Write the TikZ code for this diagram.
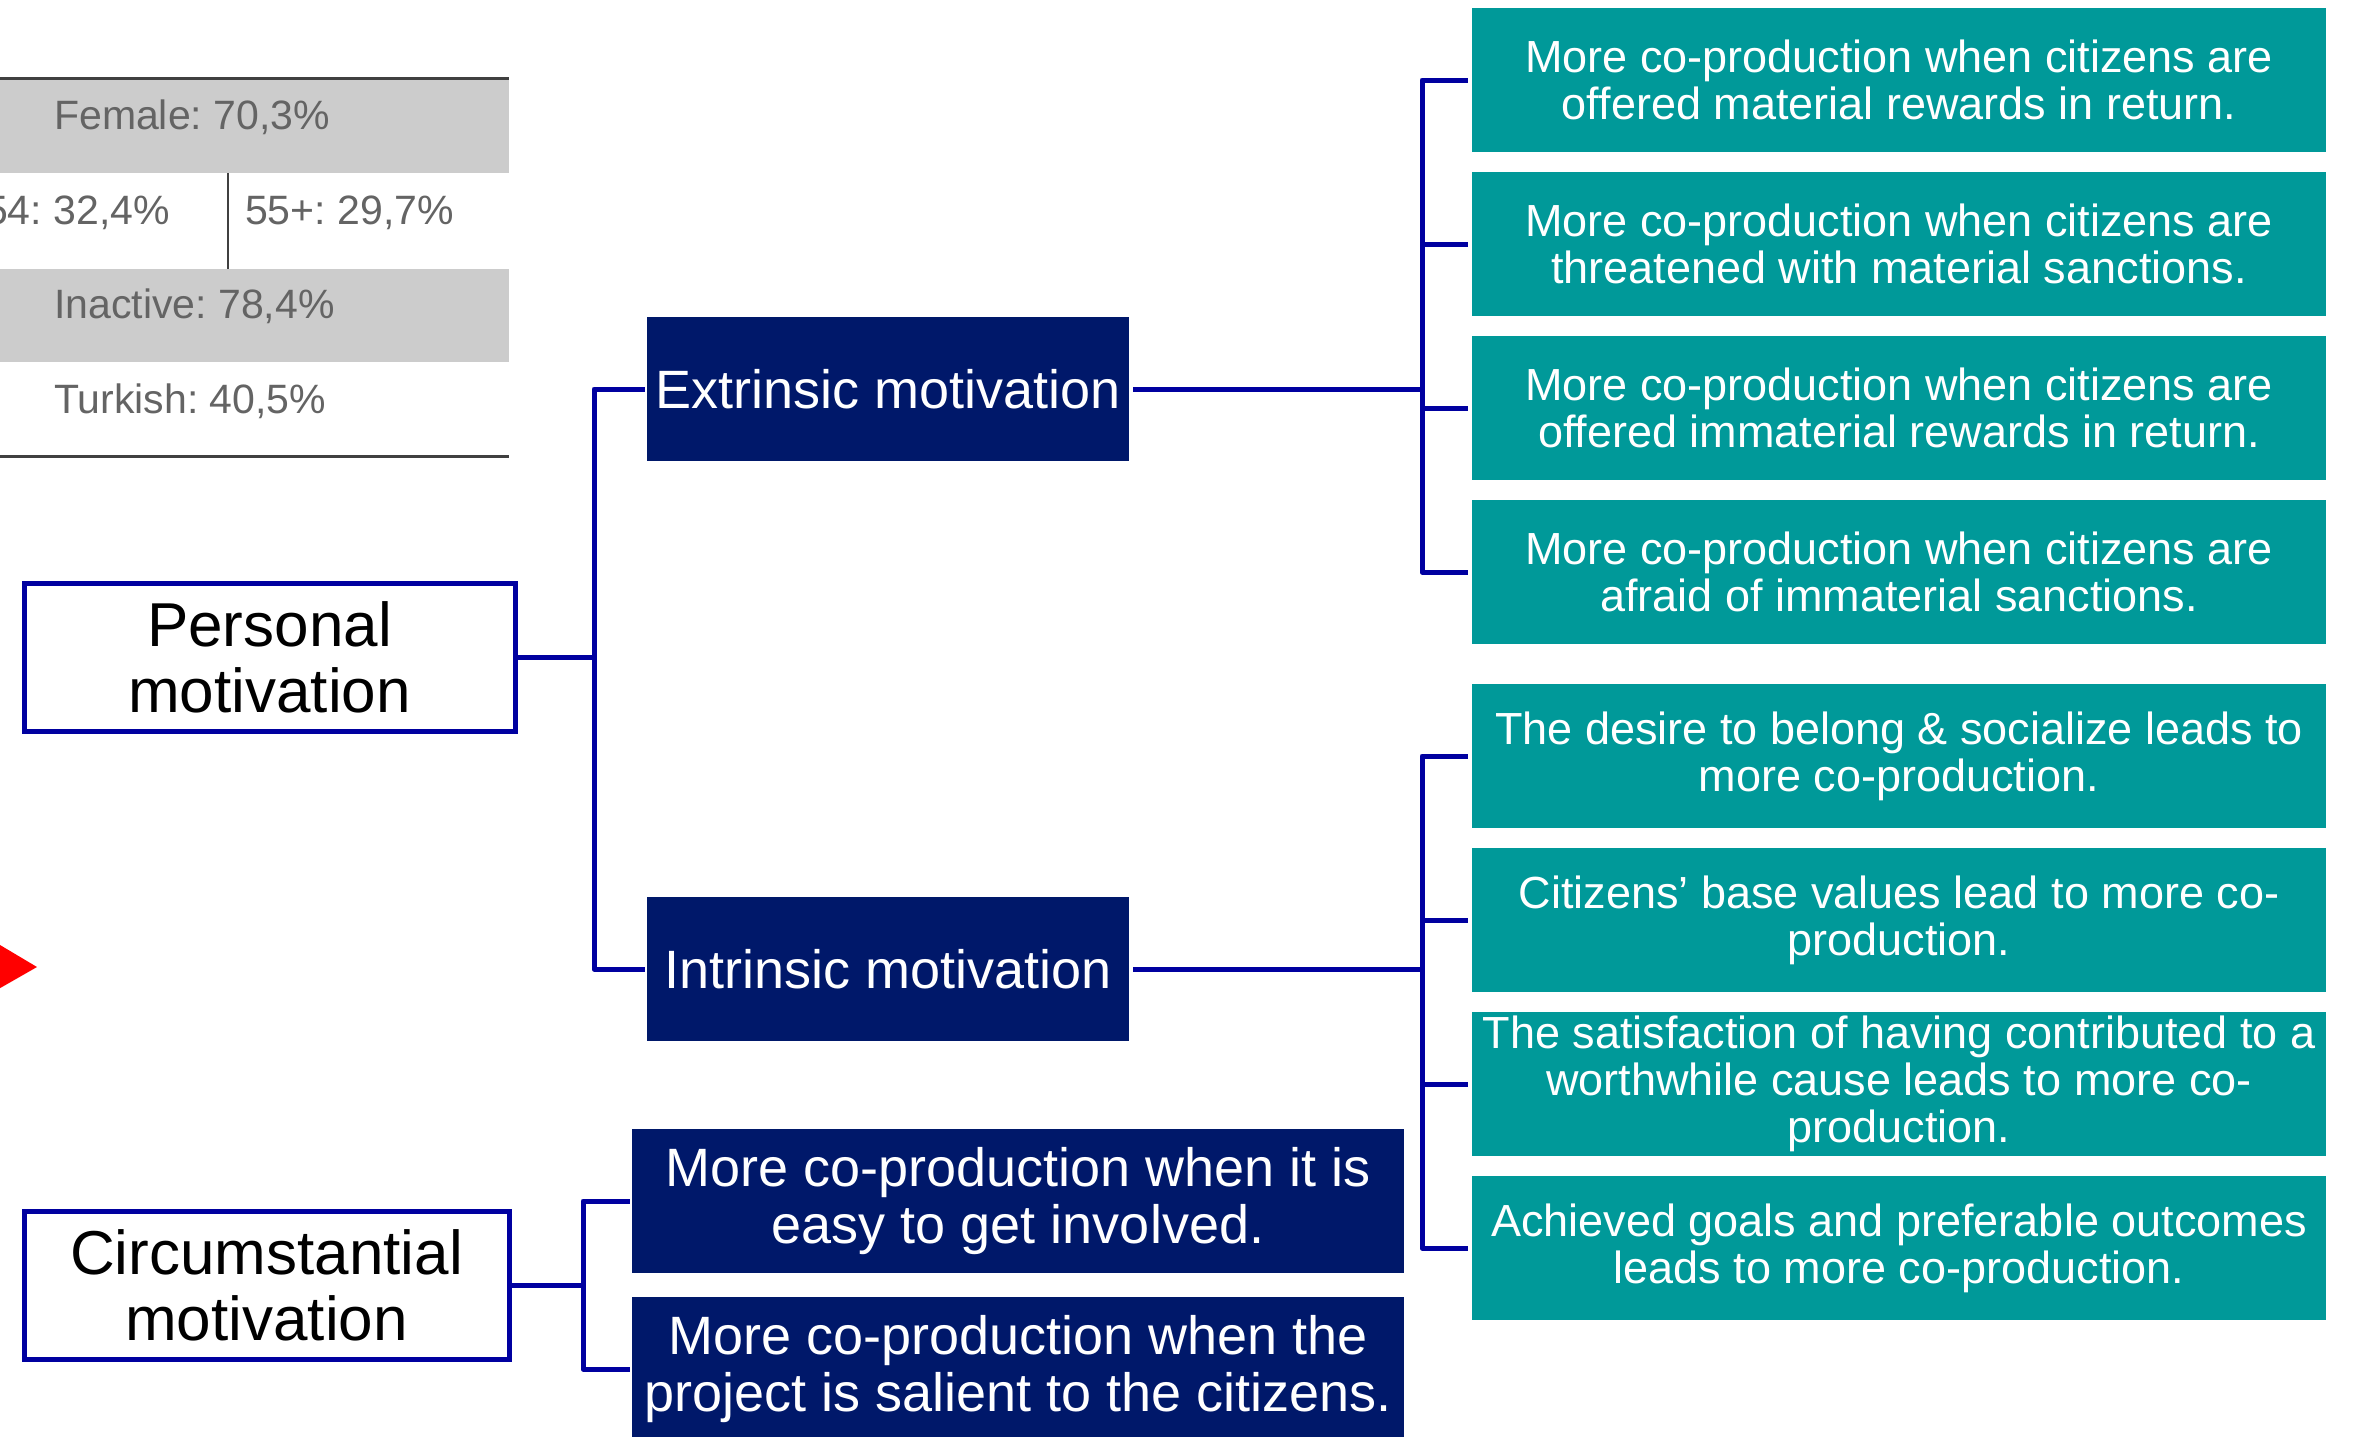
\documentclass[tikz,border=0pt]{standalone}
\usepackage{fontspec}
\setmainfont{Liberation Sans}
\frenchspacing
\definecolor{lineblue}{RGB}{0,0,160}
\definecolor{navyc}{RGB}{0,24,106}
\definecolor{tealc}{RGB}{0,153,153}
\definecolor{tabfill}{RGB}{204,204,204}
\definecolor{tabtext}{RGB}{100,100,100}
\definecolor{tabline}{RGB}{64,64,64}
\begin{document}
\begin{tikzpicture}[x=1pt,y=-1pt,
  conn/.style={draw=lineblue, line width=5pt, line join=round},
  tealbox/.style={fill=tealc, text=white, minimum width=854pt, minimum height=144pt, inner sep=0pt, align=center, font=\fontsize{45}{47}\selectfont\frenchspacing},
  navybox/.style={fill=navyc, text=white, inner sep=0pt, align=center, font=\fontsize{54}{57}\selectfont\frenchspacing},
  motiv/.style={draw=lineblue, line width=5pt, fill=white, text=black, align=center, inner sep=0pt, font=\fontsize{62}{66}\selectfont},
  tabtxt/.style={text=tabtext, font=\fontsize{41}{41}\selectfont\frenchspacing, inner sep=0pt},
  tabrule/.style={draw=tabline, line width=3pt}
]
\clip (0,0) rectangle (2354,1436);
\fill[white] (0,0) rectangle (2354,1436);

% table
\fill[tabfill] (-5,78) rectangle (509,173);
\fill[tabfill] (-5,269) rectangle (509,362);
\draw[tabrule] (-5,78) -- (509,78);
\draw[tabrule] (-5,456) -- (509,456);
\draw[draw=tabline, line width=2.5pt] (228,173) -- (228,269);
\node[tabtxt, anchor=base west] (female) at (54,129) {Female: 70,3\%};
\node[tabtxt, anchor=base east] (age1) at (170,224) {54: 32,4\%};
\node[tabtxt, anchor=base west] (age2) at (245,224) {55+: 29,7\%};
\node[tabtxt, anchor=base west] (inact) at (54,318) {Inactive: 78,4\%};
\node[tabtxt, anchor=base west] (turk) at (54,413) {Turkish: 40,5\%};

% red triangle
\fill[red] (-5,942) -- (37,967) -- (-5,991) -- cycle;

% left nodes
\node[motiv, minimum width=491pt, minimum height=148pt] (pm) at (269.5,657) {Personal\\motivation};
\node[motiv, minimum width=485pt, minimum height=148pt] (cm) at (266.5,1285) {Circumstantial\\motivation};

% middle nodes
\node[navybox, minimum width=482pt, minimum height=144pt] (em) at (888,389) {Extrinsic motivation};
\node[navybox, minimum width=482pt, minimum height=144pt] (im) at (888,969) {Intrinsic motivation};
\node[navybox, minimum width=772pt, minimum height=144pt] (c1) at (1018,1201) {More co-production when it is\\easy to get involved.};
\node[navybox, minimum width=772pt, minimum height=144pt] (c2) at (1018,1369) {More co-production when the\\project is salient to the citizens.};

% teal boxes
\node[tealbox] (t1) at (1899,80) {More co-production when citizens are\\offered material rewards in return.};
\node[tealbox] (t2) at (1899,244) {More co-production when citizens are\\threatened with material sanctions.};
\node[tealbox] (t3) at (1899,408) {More co-production when citizens are\\offered immaterial rewards in return.};
\node[tealbox] (t4) at (1899,572) {More co-production when citizens are\\afraid of immaterial sanctions.};
\node[tealbox] (t5) at (1899,756) {The desire to belong \& socialize leads to\\more co-production.};
\node[tealbox] (t6) at (1899,920) {Citizens’ base values lead to more co-\\production.};
\node[tealbox] (t7) at (1899,1084) {The satisfaction of having contributed to a\\worthwhile cause leads to more co-\\production.};
\node[tealbox] (t8) at (1899,1248) {Achieved goals and preferable outcomes\\leads to more co-production.};

% bus coordinates
\coordinate (bp) at (594,657);
\coordinate (bx) at (1422,389);
\coordinate (bc) at (583,1285);

% connectors
\draw[conn] (pm.east) -- (bp);
\draw[conn, shorten <=2pt, shorten >=2pt] (em.west) -- (em.west -| bp) -- (im.west -| bp) -- (im.west);

\draw[conn, shorten <=4pt] (em.east) -- (bx);
\draw[conn, shorten <=4pt, shorten >=4pt] (t1.west) -- (t1.west -| bx) -- (t4.west -| bx) -- (t4.west);
\draw[conn, shorten <=4pt] (t2.west) -- (t2.west -| bx);
\draw[conn, shorten <=4pt] (t3.west) -- (t3.west -| bx);

\draw[conn, shorten <=4pt] (im.east) -- (im.east -| bx);
\draw[conn, shorten <=4pt, shorten >=4pt] (t5.west) -- (t5.west -| bx) -- (t8.west -| bx) -- (t8.west);
\draw[conn, shorten <=4pt] (t6.west) -- (t6.west -| bx);
\draw[conn, shorten <=4pt] (t7.west) -- (t7.west -| bx);

\draw[conn] (cm.east) -- (bc);
\draw[conn, shorten <=2pt, shorten >=2pt] (c1.west) -- (c1.west -| bc) -- (c2.west -| bc) -- (c2.west);
\end{tikzpicture}
\end{document}
